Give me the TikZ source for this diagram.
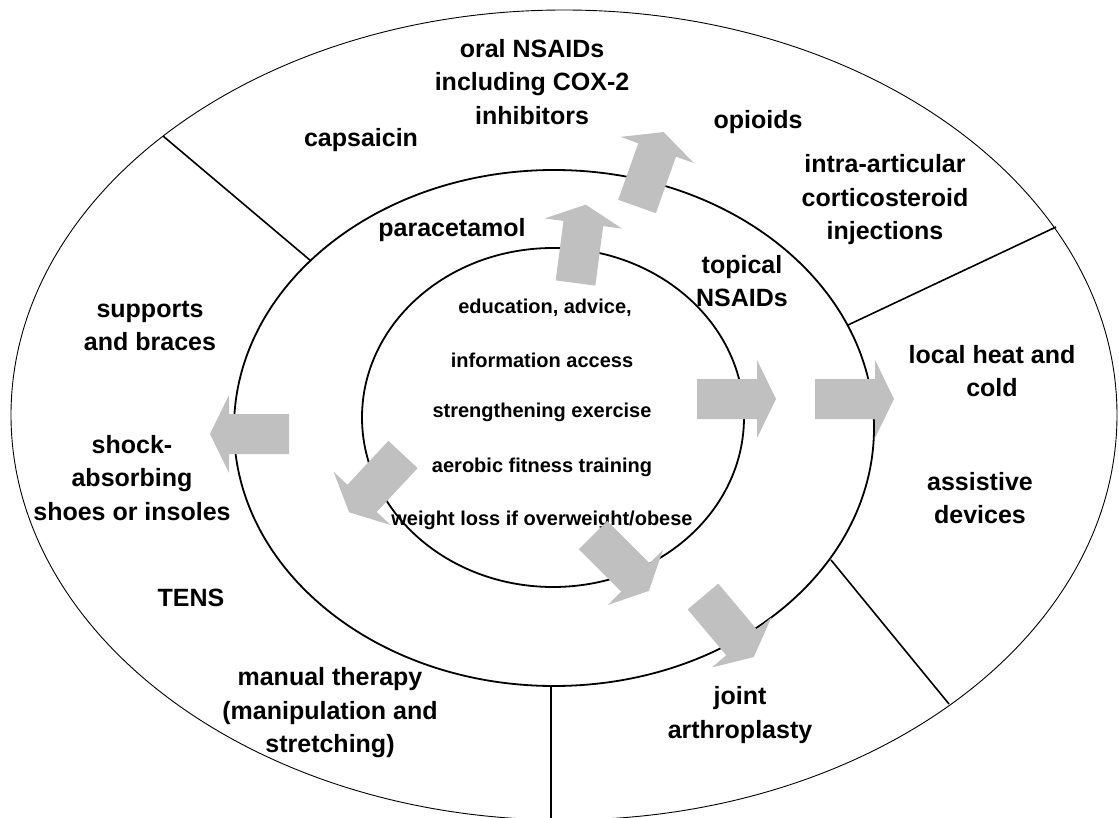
\documentclass[tikz,border=0pt]{standalone}
\usepackage{fontspec}
\setmainfont{Liberation Sans}
\definecolor{arrowgray}{RGB}{192,192,192}
\begin{document}
\begin{tikzpicture}[x=1pt,y=-1pt,
  outerring/.style={draw=black, line width=0.9pt},
  ring/.style={draw=black, line width=1.8pt},
  divider/.style={draw=black, line width=1.6pt},
  arrowfill/.style={fill=arrowgray},
  big/.style={font=\fontsize{25}{33.5}\selectfont\bfseries, align=center, inner sep=0pt},
  small/.style={font=\fontsize{20}{24}\selectfont\bfseries, align=center, inner sep=0pt},
  blockarrow/.pic={\fill[arrowfill] (0,-20) -- (60,-20) -- (60,-39) -- (79,0) -- (60,39) -- (60,20) -- (0,20) -- cycle;}
]
\useasboundingbox (0,0) rectangle (1119,818);
\fill[white] (0,0) rectangle (1119,818);

% rings
\draw[outerring] (564,415) ellipse [x radius=553, y radius=405];
\draw[ring] (554,428) ellipse [x radius=320, y radius=258];
\draw[ring] (553,417.5) ellipse [x radius=191, y radius=169.5];

% dividers
\coordinate (d1o) at (163,136);
\coordinate (d1i) at (311,261);
\coordinate (d2o) at (1056,227);
\coordinate (d2i) at (848,325);
\coordinate (d3i) at (831,560);
\coordinate (d3o) at (949,704);
\coordinate (d4i) at (551,686);
\coordinate (d4o) at (551,830);
\draw[divider] (d1o) -- (d1i);
\draw[divider] (d2o) -- (d2i);
\draw[divider] (d3i) -- (d3o);
\draw[divider] (d4i) -- (d4o);

% outer texts
\node[big] (oral) at (532,82) {oral NSAIDs\\including COX-2\\inhibitors};
\node[big] (caps) at (361,140) {capsaicin};
\node[big] (opi) at (758,122) {opioids};
\node[big] (intra) at (885,200) {intra-articular\\corticosteroid\\injections};
\node[big] (para) at (452,230) {paracetamol};
\node[big] (topical) at (742,281) {topical\\NSAIDs};
\node[big] (supp) at (150,326) {supports\\and braces};
\node[big] (heat) at (992,371) {local heat and\\cold};
\node[big] (shock) at (132,478) {shock-\\absorbing\\shoes or insoles};
\node[big] (assist) at (980,498) {assistive\\devices};
\node[big] (tens) at (191,598) {TENS};
\node[big] (manual) at (330,713) {manual therapy\\(manipulation and\\stretching)};
\node[big] (joint) at (740,715) {joint\\arthroplasty};

% inner texts
\node[small] (edu) at (545,308) {education, advice,};
\node[small] (info) at (542,360) {information access};
\node[small] (stren) at (542,412) {strengthening exercise};
\node[small] (aero) at (542,467) {aerobic fitness training};
\node[small] (weight) at (542,520) {weight loss if overweight/obese};

% block arrows
\pic[rotate=82.5] at (575.5,283) {blockarrow};
\pic[rotate=70.4] at (637,206.5) {blockarrow};
\pic at (697,399) {blockarrow};
\pic at (815,399) {blockarrow};
\pic[rotate=180] at (289,434) {blockarrow};
\pic[rotate=227] at (403,454.5) {blockarrow};
\pic[rotate=-45] at (593,535) {blockarrow};
\pic[rotate=-50] at (703,596.5) {blockarrow};
\end{tikzpicture}
\end{document}
